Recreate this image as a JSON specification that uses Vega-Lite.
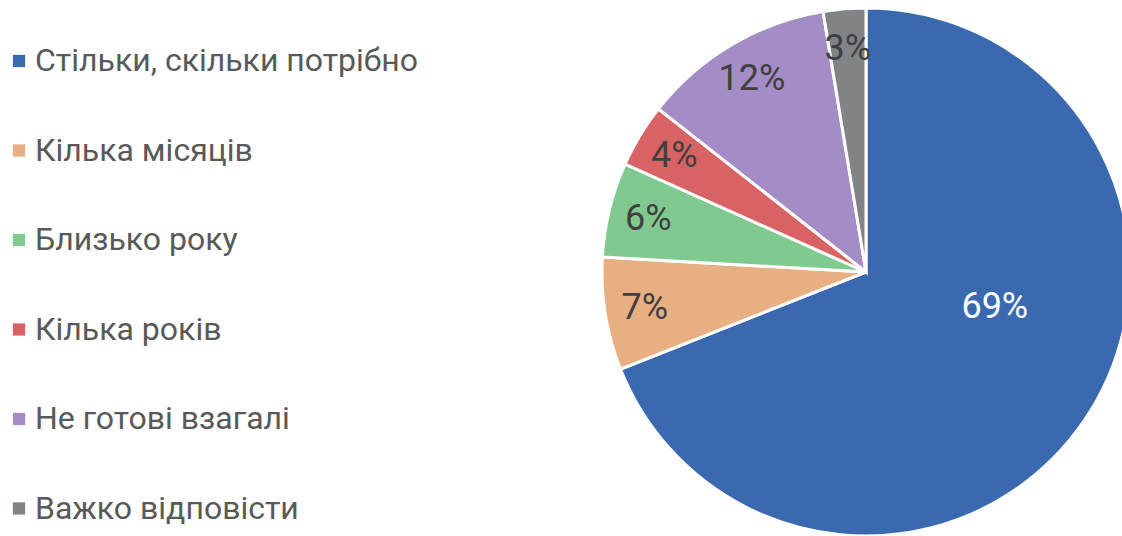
{
  "$schema": "https://vega.github.io/schema/vega-lite/v6.json",
  "autosize": "none",
  "width": 528,
  "height": 528,
  "padding": {"left": 602, "top": 8, "right": 0, "bottom": 0},
  "background": "white",
  "config": {"view": {"stroke": null}},
  "data": {
    "values": [
      {"idx": 1, "category": "Стільки, скільки потрібно", "value": 69.0, "label": "69%"},
      {"idx": 2, "category": "Кілька місяців", "value": 6.9, "label": "7%"},
      {"idx": 3, "category": "Близько року", "value": 5.8, "label": "6%"},
      {"idx": 4, "category": "Кілька років", "value": 3.9, "label": "4%"},
      {"idx": 5, "category": "Не готові взагалі", "value": 11.8, "label": "12%"},
      {"idx": 6, "category": "Важко відповісти", "value": 2.6, "label": "3%"}
    ]
  },
  "encoding": {
    "theta": {"field": "value", "type": "quantitative", "stack": true},
    "order": {"field": "idx", "type": "quantitative"}
  },
  "layer": [
    {
      "mark": {"type": "arc", "outerRadius": 264, "stroke": "white", "strokeWidth": 3},
      "encoding": {
        "color": {
          "field": "category",
          "type": "nominal",
          "scale": {
            "domain": ["Стільки, скільки потрібно", "Кілька місяців", "Близько року", "Кілька років", "Не готові взагалі", "Важко відповісти"],
            "range": ["#3A69B0", "#E8AF83", "#80CA8F", "#D86264", "#A48DC6", "#808485"]
          },
          "legend": {
            "title": null,
            "orient": "none",
            "legendX": -599,
            "legendY": 37,
            "padding": 0,
            "symbolType": "square",
            "symbolSize": 150,
            "symbolStrokeWidth": 0,
            "labelFont": "Roboto",
            "labelFontSize": 32,
            "labelColor": "#595959",
            "labelOffset": 0,
            "labelLimit": 600,
            "rowPadding": 57.5
          }
        }
      }
    },
    {
      "mark": {"type": "text", "radius": 224, "font": "Roboto", "fontSize": 36, "fill": "#404040"},
      "encoding": {
        "text": {"condition": {"test": "datum.idx == 1", "value": ""}, "field": "label", "type": "nominal"}
      }
    },
    {
      "mark": {"type": "text", "radius": 134, "dx": 18, "dy": -40, "font": "Roboto", "fontSize": 36, "fill": "white"},
      "encoding": {
        "text": {"condition": {"test": "datum.idx != 1", "value": ""}, "field": "label", "type": "nominal"}
      }
    }
  ]
}
